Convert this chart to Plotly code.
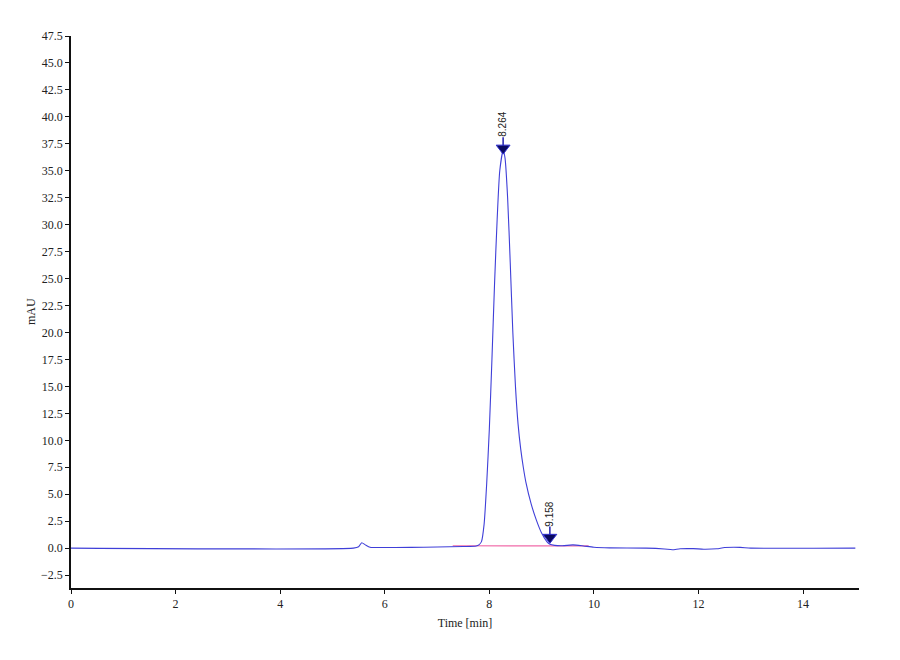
import plotly.graph_objects as go

# chromatogram (time in min, signal in mAU)
time_min = [0.0, 5.40, 5.50, 5.56, 5.63, 5.72, 5.90, 6.50, 7.00, 7.50, 7.75,
            7.80, 7.85, 7.90, 7.95, 8.00, 8.05, 8.10, 8.15, 8.20, 8.264,
            8.30, 8.35, 8.40, 8.45, 8.50, 8.55, 8.60, 8.65, 8.70, 8.80,
            8.90, 9.00, 9.10, 9.158, 9.25, 9.40, 9.60, 9.80, 10.00, 10.30,
            11.00, 11.35, 11.50, 11.65, 11.90, 12.10, 12.35, 12.50, 12.80,
            13.00, 15.00]
signal_mau = [0.0, 0.0, 0.12, 0.5, 0.3, 0.08, 0.05, 0.07, 0.1, 0.15, 0.2,
              0.3, 0.6, 2.2, 6.0, 11.0, 17.5, 24.5, 30.5, 35.0, 36.9,
              36.2, 32.5, 26.5, 20.0, 15.0, 11.5, 9.2, 7.5, 6.1, 4.1,
              2.6, 1.4, 0.6, 0.35, 0.25, 0.22, 0.3, 0.2, 0.08, 0.02,
              0.0, -0.08, -0.15, -0.06, -0.05, -0.1, -0.06, 0.05, 0.07,
              0.0, 0.0]

# integration baseline
base_time = [7.30, 9.90]
base_mau = [0.22, 0.2]

# peak markers
peak_times = [8.264, 9.158]
peak_marks = [37.1, 1.0]
peak_labels = ["8.264", "9.158"]

serif = "Liberation Serif"

fig = go.Figure()
fig.add_trace(go.Scatter(x=base_time, y=base_mau, mode="lines",
                         line=dict(color="#f06aa8", width=1.2),
                         hoverinfo="skip"))
fig.add_trace(go.Scatter(x=time_min, y=signal_mau, mode="lines",
                         line=dict(color="#3f3fd8", width=1.1, shape="spline",
                                   smoothing=0.6)))
# short stems above the arrow heads
for t, y in zip(peak_times, peak_marks):
    fig.add_trace(go.Scatter(x=[t, t], y=[y, y + 1.0], mode="lines",
                             line=dict(color="#2020b0", width=1.5),
                             hoverinfo="skip"))
fig.add_trace(go.Scatter(x=peak_times, y=peak_marks, mode="markers",
                         marker=dict(symbol="triangle-down", size=12,
                                     color="#0a0a60",
                                     line=dict(color="#3030d0", width=1))))

for t, y, lab in zip(peak_times, peak_marks, peak_labels):
    fig.add_annotation(x=t, y=y, text=lab, showarrow=False, textangle=-90,
                       xanchor="center", yanchor="bottom", yshift=9,
                       font=dict(family="Liberation Sans", size=10,
                                 color="#222222"))

# y title placed by hand just left of the tick labels
fig.add_annotation(x=0, y=0.5, xref="paper", yref="paper", text="mAU",
                   showarrow=False, textangle=-90, xanchor="center",
                   xshift=-40, font=dict(family=serif, size=12,
                                         color="#222222"))

# page body adds an 8 px offset, margins are set so the plot lands in place
fig.update_layout(
    width=900, height=660,
    margin=dict(l=63, r=49, t=28, b=80),
    paper_bgcolor="white", plot_bgcolor="white",
    showlegend=False,
    font=dict(family=serif, size=12, color="#222222"),
)
fig.update_xaxes(
    range=[0, 15.07], dtick=2, tick0=0, showgrid=False, zeroline=False,
    showline=True, linecolor="#111111", linewidth=1.5,
    ticks="outside", ticklen=4, tickcolor="#111111",
    tickfont=dict(family=serif, size=12, color="#222222"),
    automargin=False,
    title=dict(text="Time [min]", font=dict(family=serif, size=12),
               standoff=8),
)
fig.update_yaxes(
    range=[-3.7, 47.5], dtick=2.5, tick0=0, tickformat=".1f",
    showgrid=False, zeroline=False,
    showline=True, linecolor="#111111", linewidth=1.5,
    ticks="outside", ticklen=4, tickcolor="#111111",
    tickfont=dict(family=serif, size=12, color="#222222"),
    automargin=False,
)

fig.write_html("out.html")
